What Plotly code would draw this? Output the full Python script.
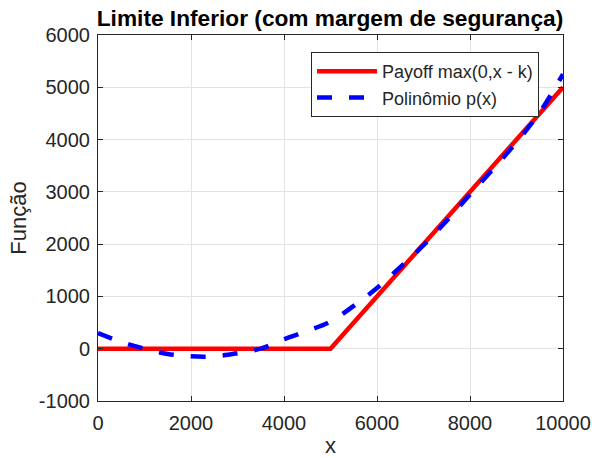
import plotly.graph_objects as go

k = 5000
x_payoff = [0, 5000, 10000]
y_payoff = [0, 0, 5000]

x_poly = [0, 500, 1000, 1500, 2000, 2500, 3000, 3500, 4000, 4500, 5000,
          5500, 6000, 6500, 7000, 7500, 8000, 8500, 9000, 9500, 10000]
y_poly = [300, 130, 0, -100, -145, -145, -85, 0, 180, 340, 520,
          820, 1160, 1560, 1980, 2450, 2950, 3440, 3950, 4520, 5250]

x_ticks = [0, 2000, 4000, 6000, 8000, 10000]
x_ticktext = ["0", "2000", "4000", "6000", "8000", "10000"]
y_ticks = [-1000, 0, 1000, 2000, 3000, 4000, 5000, 6000]
y_ticktext = ["-1000", "0", "1000", "2000", "3000", "4000", "5000", "6000"]

FONT = "Liberation Sans, Arial, sans-serif"
AX = "#262626"
W, H = 592, 458

fig = go.Figure()
fig.add_trace(go.Scatter(x=x_payoff, y=y_payoff, mode="lines",
                         name="Payoff max(0,x - k)",
                         line=dict(color="#ff0000", width=4.5)))
fig.add_trace(go.Scatter(x=x_poly, y=y_poly, mode="lines",
                         name="Polinômio p(x)", line_shape="spline",
                         line=dict(color="#0000ff", width=4.5, dash="15px,17px")))

axis_common = dict(showline=True, linecolor=AX, linewidth=1, mirror="ticks",
                   ticks="inside", ticklen=5, tickcolor=AX,
                   showgrid=True, gridcolor="#e3e3e3", gridwidth=1,
                   zeroline=False, automargin=False,
                   tickfont=dict(family=FONT, size=20, color=AX),
                   title_font=dict(family=FONT, size=22, color=AX))

fig.update_xaxes(range=[0, 10000], tickvals=x_ticks, ticktext=x_ticktext,
                 title_text="x", title_standoff=4, ticklabelstandoff=4,
                 **axis_common)
fig.update_yaxes(range=[-1000, 6000], tickvals=y_ticks, ticktext=y_ticktext,
                 title_text="Função", title_standoff=6, ticklabelstandoff=3,
                 **axis_common)

fig.update_layout(
    width=W, height=H,
    margin=dict(l=98, r=29, t=35, b=57),
    paper_bgcolor="white", plot_bgcolor="white",
    title=dict(text="<b>Limite Inferior (com margem de segurança)</b>",
               x=330 / W, xanchor="center",
               y=1 - 18 / H, yanchor="middle",
               font=dict(family=FONT, size=22.7, color="black")),
    legend=dict(x=(311 - 98) / 465, y=1 - (52 - 35) / 366,
                xanchor="left", yanchor="top",
                bgcolor="white", bordercolor=AX, borderwidth=1,
                font=dict(family=FONT, size=18, color=AX),
                itemwidth=60, tracegroupgap=0),
    showlegend=True,
)

fig.write_html("out.html",
               config={"displayModeBar": False},
               post_script="document.body.style.margin='0';document.body.style.overflow='hidden';")
